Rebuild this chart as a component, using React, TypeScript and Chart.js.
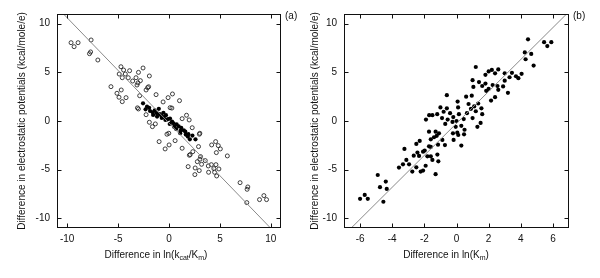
import React, { useEffect, useRef } from "react";
import { Chart, registerables } from "chart.js";

Chart.register(...registerables);

const FONT = "'Liberation Sans', Arial, Helvetica, sans-serif";

// ---------- Panel (a) ----------
const aXTicks = [-10, -5, 0, 5, 10];
const aYTicks = [-10, -5, 0, 5, 10];

const aOpen: [number, number][] = [
  [-9.62, 8.05], [-9.32, 7.64], [-8.93, 8.05], [-7.65, 8.33], [-7.81, 6.92], [-7.7, 7.1], [-6.99, 6.27],
  [-4.72, 5.58], [-4.46, 5.24], [-4.89, 4.83], [-4.59, 4.45], [-4.29, 4.83], [-3.87, 5.17], [-4.0, 4.45],
  [-3.57, 4.11], [-3.24, 4.45], [-3.0, 5.0], [-2.55, 5.45], [-2.81, 4.15], [-3.14, 3.7], [-3.05, 3.92],
  [-1.93, 4.63], [-2.1, 3.43], [-2.0, 3.52], [-2.25, 3.19], [-2.88, 2.6], [-5.7, 3.53], [-4.69, 3.19],
  [-5.11, 2.85], [-4.91, 2.44], [-4.22, 2.4], [-4.59, 1.99], [-1.27, 2.71], [-0.58, 1.96], [-0.09, 2.4],
  [0.34, 2.78], [1.03, 2.09], [-3.0, 1.24], [-3.1, 1.35], [-2.25, 0.65], [0.11, 1.37], [0.28, 1.33],
  [-1.93, -0.13], [-1.63, -0.58], [-1.34, -0.3], [1.29, 0.24], [1.72, 0.59], [1.98, 0.11], [2.28, -0.69],
  [3.03, -1.26], [2.98, -1.36], [-0.02, -1.26], [-0.2, -1.36],
  [-0.97, -2.12], [0.01, -2.46], [0.6, -2.02], [-0.38, -2.87], [1.29, -2.8], [2.9, -2.63], [4.19, -2.46],
  [4.58, -2.12], [4.84, -2.53], [5.04, -2.87], [4.65, -3.25], [5.73, -3.59], [2.34, -3.15], [2.0, -3.52],
  [2.08, -3.45], [3.1, -3.66], [3.03, -3.93], [2.78, -4.18], [3.56, -4.07], [3.2, -4.45], [3.86, -4.62],
  [4.16, -4.49], [4.61, -4.49], [4.41, -4.9], [4.9, -4.93], [1.88, -4.69], [2.57, -4.83], [2.97, -5.1],
  [3.89, -5.27], [4.48, -5.27], [4.68, -5.65], [2.54, -5.51], [6.98, -6.34], [7.74, -6.78], [7.67, -7.02],
  [7.64, -8.39], [8.89, -8.08], [9.32, -7.67], [9.58, -8.08],
];

const aFilled: [number, number][] = [
  [-2.55, 1.82], [-2.16, 1.47], [-2.3, 1.2], [-1.86, 1.03], [-1.95, 1.35], [-1.6, 0.9], [-1.56, 0.62],
  [-1.4, 1.1], [-1.17, 0.45], [-1.2, 0.8], [-0.9, 0.7], [-0.71, 0.31], [-0.75, 0.55], [-0.5, 0.4],
  [-0.35, 0.11], [-0.3, 0.6], [-0.1, 0.2], [0.07, -0.3], [0.1, 0.25], [0.44, -0.23], [0.3, -0.05],
  [0.5, -0.6], [0.7, -0.82], [0.75, -0.35], [0.95, -0.55], [1.13, -1.02], [1.2, -0.7], [1.45, -0.95],
  [1.65, -1.4], [1.6, -1.1], [1.9, -1.35], [2.05, -1.88], [2.3, -1.5], [2.6, -1.88], [1.1, -1.25],
  [-1.0, 1.25], [-0.55, 0.85], [1.85, -1.6],
];

const aFitX = [-10.36, 9.97];
const aFitY = [11, -11];

// ---------- Panel (b) ----------
const bXTicks = [-6, -4, -2, 0, 2, 4, 6];
const bYTicks = [-10, -5, 0, 5, 10];

const bPoints: [number, number][] = [
  [4.45, 8.4], [5.45, 8.1], [5.65, 7.7], [5.9, 8.1], [4.25, 7.05], [4.65, 6.9], [4.3, 6.35], [4.8, 5.7],
  [1.2, 5.55], [2.0, 5.1], [2.2, 5.25], [2.6, 5.3], [1.8, 4.75], [2.4, 4.9], [3.0, 4.9], [3.45, 4.95],
  [3.3, 4.5], [3.0, 4.15], [3.7, 4.6], [3.85, 4.4], [4.05, 4.85],
  [1.0, 4.2], [1.4, 4.0], [1.8, 3.85], [2.25, 3.7], [2.55, 3.6], [1.05, 3.5], [1.6, 3.6], [2.0, 3.3],
  [1.85, 3.1], [3.2, 2.9], [2.4, 2.45], [2.15, 2.1], [2.6, 3.2], [2.9, 3.55],
  [0.6, 2.5], [0.95, 2.6], [-0.6, 2.65], [0.07, 2.0], [1.35, 1.8], [0.75, 1.75], [1.1, 1.5], [1.55, 1.3],
  [0.9, 1.25], [1.2, 1.0], [0.1, 1.4], [0.65, 0.8], [0.45, 0.2], [0.15, 0.7], [1.6, 0.7], [1.0, 0.3],
  [1.5, -0.2], [1.3, -0.6],
  [-1.0, 1.4], [-0.6, 1.3], [-0.4, 0.8], [-0.8, 0.95], [-1.2, 0.7], [-1.5, 0.6], [-1.9, 0.15], [-1.7, 0.6],
  [-0.9, 0.3], [-0.55, 0.15], [-0.25, -0.1], [-0.7, -0.3], [-0.2, 0.4], [0.0, 0.0], [0.3, -0.5],
  [-0.05, -0.6], [0.5, -0.9],
  [-6.0, -8.0], [-5.71, -7.6], [-5.52, -8.0], [-4.55, -8.3], [-4.9, -5.55], [-4.76, -6.8], [-4.4, -6.23],
  [-4.34, -6.98], [-3.58, -4.79], [-3.33, -4.45], [-3.24, -2.87], [-3.12, -4.0], [-2.95, -4.45],
  [-2.75, -5.2], [-2.5, -4.76], [-2.5, -2.36], [-2.29, -2.05], [-2.66, -3.56], [-2.43, -3.25],
  [-2.33, -3.59], [-2.23, -5.2], [-2.08, -3.15], [-2.08, -5.1], [-1.98, -3.04], [-1.92, -4.6],
  [-1.81, -3.63], [-1.71, -2.6], [-1.6, -2.67], [-1.6, -3.63], [-1.5, -4.0], [-1.3, -5.47], [-1.23, -1.52],
  [-1.3, -1.1], [-1.19, -3.45], [-1.15, -2.43], [-1.13, -4.15], [-0.88, -1.95], [-0.72, -2.47],
  [-1.71, -1.1], [-1.09, -1.27], [-0.22, -1.27], [0.05, -1.2], [0.11, -1.44], [0.47, -1.37], [-0.18, -1.95],
  [0.3, -2.53], [-1.4, -1.67], [-1.6, -1.88],
];

const bFitX = [-6.55, 6.85];
const bFitY = [-11, 11];

const yTitle = "Difference in electrostatic potentials (kcal/mole/e)";
const aXTitle = [
  { t: "Difference in ln(k", sub: false },
  { t: "cat", sub: true },
  { t: "/K", sub: false },
  { t: "m", sub: true },
  { t: ")", sub: false },
];
const bXTitle = [
  { t: "Difference in ln(K", sub: false },
  { t: "m", sub: true },
  { t: ")", sub: false },
];

const toXY = (pts: [number, number][]) => pts.map(([x, y]) => ({ x, y }));
const lineXY = (xs: number[], ys: number[]) => xs.map((x, i) => ({ x, y: ys[i] }));

const decorPlugin = {
  id: "decor",
  afterDraw(chart: any, _args: any, opts: any) {
    const { ctx, chartArea: a, scales } = chart;
    ctx.save();
    // frame
    ctx.strokeStyle = "#111";
    ctx.lineWidth = 1;
    const L = Math.round(a.left) + 0.5;
    const T = Math.round(a.top) + 0.5;
    const R = Math.round(a.right) - 0.5;
    const B = Math.round(a.bottom) - 0.5;
    ctx.strokeRect(L, T, R - L, B - T);
    // inward ticks on all sides
    ctx.beginPath();
    for (const t of scales.x.ticks) {
      const p = Math.round(scales.x.getPixelForValue(t.value)) + 0.5;
      ctx.moveTo(p, B); ctx.lineTo(p, B - 4);
      ctx.moveTo(p, T); ctx.lineTo(p, T + 4);
    }
    for (const t of scales.y.ticks) {
      const p = Math.round(scales.y.getPixelForValue(t.value)) + 0.5;
      ctx.moveTo(L, p); ctx.lineTo(L + 4, p);
      ctx.moveTo(R, p); ctx.lineTo(R - 4, p);
    }
    ctx.stroke();
    // panel label
    ctx.fillStyle = "#111";
    ctx.font = `10px ${FONT}`;
    ctx.textAlign = "left";
    ctx.textBaseline = "middle";
    ctx.fillText(opts.label, a.right + 4, a.top + 2);
    // x title with subscripts
    const parts = opts.xTitle as { t: string; sub: boolean }[];
    let total = 0;
    for (const p of parts) {
      ctx.font = p.sub ? `7px ${FONT}` : `10px ${FONT}`;
      total += ctx.measureText(p.t).width;
    }
    let x = opts.titleCx - total / 2;
    const y = opts.titleY;
    for (const p of parts) {
      ctx.font = p.sub ? `7px ${FONT}` : `10px ${FONT}`;
      ctx.fillText(p.t, x, p.sub ? y + 3 : y);
      x += ctx.measureText(p.t).width;
    }
    ctx.restore();
  },
};

function makeConfig(p: {
  datasets: any[];
  xMin: number; xMax: number; xTicks: number[];
  yTicks: number[];
  padLeft: number; padRight: number; yWidth: number;
  label: string; xTitle: any; titleCx: number;
}) {
  return {
    type: "scatter" as const,
    data: { datasets: p.datasets },
    plugins: [decorPlugin],
    options: {
      responsive: false,
      animation: false,
      events: [],
      layout: { padding: { left: p.padLeft, right: p.padRight, top: 14, bottom: 15 } },
      plugins: {
        legend: { display: false },
        tooltip: { enabled: false },
        decor: { label: p.label, xTitle: p.xTitle, titleCx: p.titleCx, titleY: 255 },
      },
      scales: {
        x: {
          type: "linear",
          min: p.xMin,
          max: p.xMax,
          grid: { display: false, drawTicks: false },
          border: { display: false },
          afterBuildTicks: (s: any) => { s.ticks = p.xTicks.map((v) => ({ value: v })); },
          afterFit: (s: any) => { s.height = 35; },
          ticks: { padding: 5, color: "#111", font: { family: FONT, size: 10 } },
        },
        y: {
          type: "linear",
          min: -11,
          max: 11,
          grid: { display: false, drawTicks: false },
          border: { display: false },
          afterBuildTicks: (s: any) => { s.ticks = p.yTicks.map((v) => ({ value: v })); },
          afterFit: (s: any) => { s.width = p.yWidth; },
          ticks: { padding: 7, color: "#111", font: { family: FONT, size: 10 } },
          title: {
            display: true,
            text: yTitle,
            color: "#111",
            padding: { top: 0, bottom: 0 },
            font: { family: FONT, size: 10 },
          },
        },
      },
    },
  };
}

function Panel(props: { cfg: any; left: number }) {
  const ref = useRef<HTMLCanvasElement | null>(null);
  useEffect(() => {
    if (!ref.current) return;
    const chart = new Chart(ref.current, props.cfg);
    return () => chart.destroy();
  }, []);
  return (
    <canvas
      ref={ref}
      width={300}
      height={278}
      style={{ position: "absolute", left: props.left, top: 0, width: 300, height: 278 }}
    />
  );
}

const fitStyle = {
  type: "line" as const,
  showLine: true,
  borderColor: "#8a8a8a",
  borderWidth: 1,
  pointRadius: 0,
  fill: false,
};

export default function App() {
  const cfgA = makeConfig({
    datasets: [
      { ...fitStyle, data: lineXY(aFitX, aFitY) },
      {
        data: toXY(aOpen),
        pointRadius: 2,
        borderWidth: 0.8,
        borderColor: "#111",
        backgroundColor: "rgba(0,0,0,0)",
      },
      {
        data: toXY(aFilled),
        pointRadius: 2.1,
        borderWidth: 0,
        backgroundColor: "#000",
      },
    ],
    xMin: -11, xMax: 11, xTicks: aXTicks, yTicks: aYTicks,
    padLeft: 16, padRight: 19, yWidth: 41,
    label: "(a)", xTitle: aXTitle, titleCx: 156,
  });
  const cfgB = makeConfig({
    datasets: [
      { ...fitStyle, data: lineXY(bFitX, bFitY) },
      {
        data: toXY(bPoints),
        pointRadius: 2.1,
        borderWidth: 0,
        backgroundColor: "#000",
      },
    ],
    xMin: -7, xMax: 7, xTicks: bXTicks, yTicks: bYTicks,
    padLeft: 9, padRight: 31, yWidth: 35,
    label: "(b)", xTitle: bXTitle, titleCx: 146,
  });
  return (
    <div style={{ position: "absolute", left: 0, top: 0, width: 600, height: 278, background: "#fff" }}>
      <Panel cfg={cfgA} left={0} />
      <Panel cfg={cfgB} left={300} />
    </div>
  );
}
